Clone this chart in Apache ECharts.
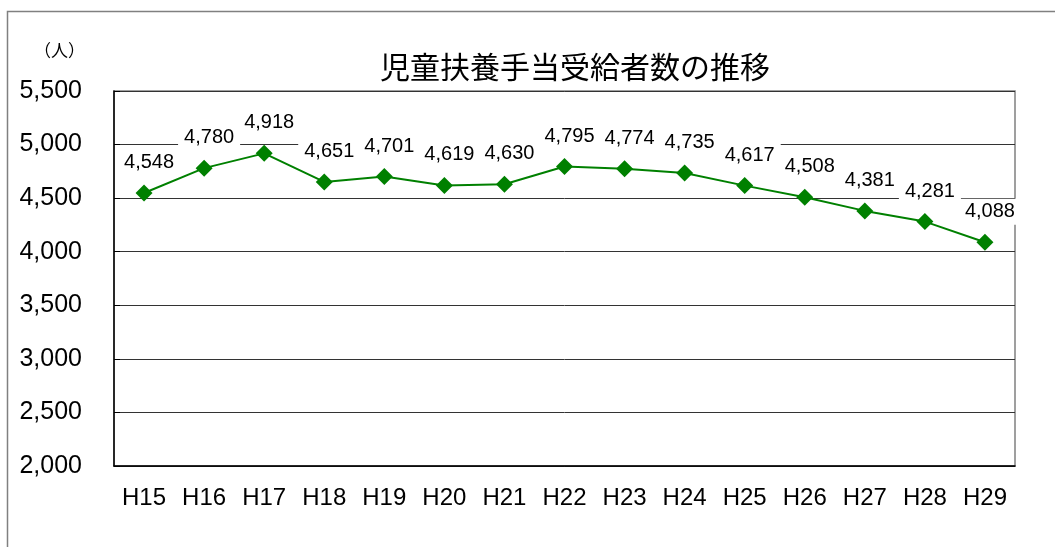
<!DOCTYPE html>
<html>
<head>
<meta charset="utf-8">
<script src="https://cdn.jsdelivr.net/npm/echarts@6/dist/echarts.min.js"></script>
<style>
  html, body { margin: 0; padding: 0; background: #fff; }
  #chart { width: 1055px; height: 547px; }
</style>
</head>
<body>
<div id="chart"></div>
<script>
var years = ['H15', 'H16', 'H17', 'H18', 'H19', 'H20', 'H21', 'H22', 'H23', 'H24', 'H25', 'H26', 'H27', 'H28', 'H29'];
var counts = [4548, 4780, 4918, 4651, 4701, 4619, 4630, 4795, 4774, 4735, 4617, 4508, 4381, 4281, 4088];
var yMin = 2000, yMax = 5500, yStep = 500;

var font = 'Arial, "Liberation Sans", sans-serif';
var myChart = echarts.init(document.getElementById('chart'));

var option = {
  animation: false,
  backgroundColor: '#fff',
  title: {
    text: '児童扶養手当受給者数の推移',
    left: 570,
    textAlign: 'center',
    top: 47,
    textStyle: { color: '#000', fontSize: 30, fontWeight: 'normal', fontFamily: '"Noto Sans CJK JP", sans-serif' }
  },
  // 外枠
  graphic: [{
    type: 'rect',
    shape: { x: 7.5, y: 11.5, width: 1100, height: 600 },
    style: { fill: 'none', stroke: '#808080', lineWidth: 1.5 },
    silent: true
  }, {
    type: 'text',
    left: 34,
    top: 42,
    style: { text: '（人）', fill: '#000', font: '17px "Noto Sans CJK JP", sans-serif' }
  }],
  grid: { left: 114, right: 40, top: 91, bottom: 81, show: true, borderColor: '#808080', borderWidth: 1.5 },
  xAxis: {
    type: 'category',
    data: years,
    boundaryGap: true,
    axisLine: { lineStyle: { color: '#000', width: 1.5 } },
    axisTick: { inside: true, length: 6, lineStyle: { color: '#000' } },
    axisLabel: { color: '#000', fontSize: 24, fontFamily: font, margin: 20 }
  },
  yAxis: {
    type: 'value',
    min: yMin,
    max: yMax,
    interval: yStep,
    axisLine: { show: true, lineStyle: { color: '#000', width: 1.5 } },
    axisTick: { show: true, inside: true, length: 6, lineStyle: { color: '#000' } },
    splitLine: { lineStyle: { color: '#333', width: 1 } },
    axisLabel: {
      color: '#000', fontSize: 25, fontFamily: font, margin: 32,
      formatter: function (v) { return v.toLocaleString('en-US'); }
    }
  },
  series: [{
    type: 'line',
    data: counts,
    symbol: 'diamond',
    symbolSize: 17,
    itemStyle: { color: '#008000' },
    lineStyle: { color: '#008000', width: 2 },
    label: {
      show: true,
      position: 'top',
      distance: 9,
      offset: [5, 0],
      color: '#000',
      fontSize: 20,
      fontFamily: font,
      backgroundColor: '#fff',
      padding: [3, 6],
      formatter: function (p) { return p.value.toLocaleString('en-US'); }
    }
  }]
};
myChart.setOption(option);
</script>
</body>
</html>
